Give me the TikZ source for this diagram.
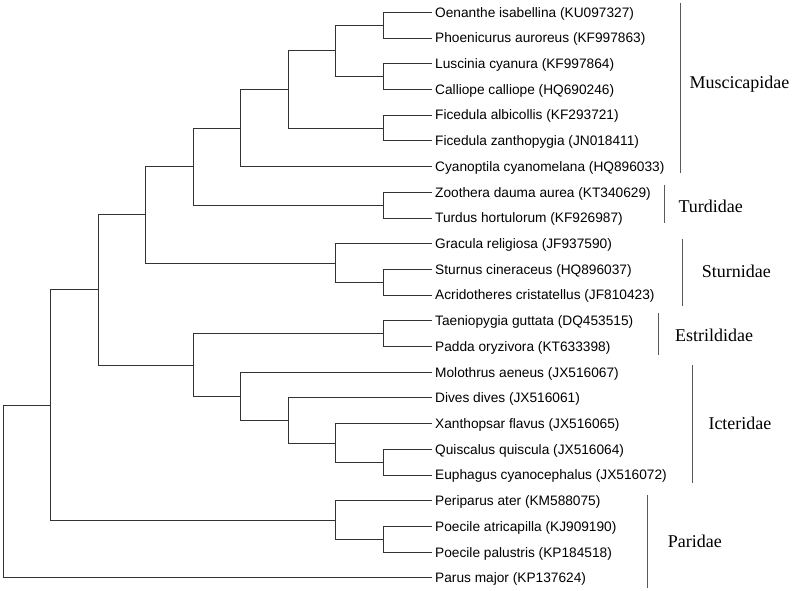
\documentclass[tikz,border=0pt]{standalone}
\usepackage{fontspec}
\setmainfont{Liberation Serif}
\newfontfamily\leaffont{Liberation Sans}
\begin{document}
\begin{tikzpicture}[x=1pt,y=-1pt,
  branch/.style={draw=black!80,line width=0.9pt},
  cladebar/.style={draw=black!65,line width=0.7pt},
  leaf/.style={anchor=base west,inner sep=0pt,font=\leaffont\fontsize{13.7}{15}\selectfont},
  family/.style={anchor=base west,inner sep=0pt,font=\fontsize{18}{20}\selectfont}]
\useasboundingbox (0,0) rectangle (793,591);
% tips
\foreach \i/\y in {0/12.3,1/38.0,2/63.7,3/89.4,4/115.1,5/140.9,6/166.6,7/192.3,8/218.0,9/243.7,10/269.4,11/295.1,12/320.8,13/346.5,14/372.2,15/397.9,16/423.7,17/449.4,18/475.1,19/500.8,20/526.5,21/552.2,22/577.9}
  \coordinate (t\i) at (432,\y);
% leaf labels
\node[leaf] (n0) at (435,17.1) {Oenanthe isabellina (KU097327)};
\node[leaf] (n1) at (435,42.8) {Phoenicurus auroreus (KF997863)};
\node[leaf] (n2) at (435,68.5) {Luscinia cyanura (KF997864)};
\node[leaf] (n3) at (435,94.2) {Calliope calliope (HQ690246)};
\node[leaf] (n4) at (435,119.9) {Ficedula albicollis (KF293721)};
\node[leaf] (n5) at (435,145.7) {Ficedula zanthopygia (JN018411)};
\node[leaf] (n6) at (435,171.4) {Cyanoptila cyanomelana (HQ896033)};
\node[leaf] (n7) at (435,197.1) {Zoothera dauma aurea (KT340629)};
\node[leaf] (n8) at (435,222.8) {Turdus hortulorum (KF926987)};
\node[leaf] (n9) at (435,248.5) {Gracula religiosa (JF937590)};
\node[leaf] (n10) at (435,274.2) {Sturnus cineraceus (HQ896037)};
\node[leaf] (n11) at (435,299.9) {Acridotheres cristatellus (JF810423)};
\node[leaf] (n12) at (435,325.6) {Taeniopygia guttata (DQ453515)};
\node[leaf] (n13) at (435,351.3) {Padda oryzivora (KT633398)};
\node[leaf] (n14) at (435,377.0) {Molothrus aeneus (JX516067)};
\node[leaf] (n15) at (435,402.7) {Dives dives (JX516061)};
\node[leaf] (n16) at (435,428.5) {Xanthopsar flavus (JX516065)};
\node[leaf] (n17) at (435,454.2) {Quiscalus quiscula (JX516064)};
\node[leaf] (n18) at (435,479.9) {Euphagus cyanocephalus (JX516072)};
\node[leaf] (n19) at (435,505.6) {Periparus ater (KM588075)};
\node[leaf] (n20) at (435,531.3) {Poecile atricapilla (KJ909190)};
\node[leaf] (n21) at (435,557.0) {Poecile palustris (KP184518)};
\node[leaf] (n22) at (435,582.7) {Parus major (KP137624)};
% internal nodes
\coordinate (A) at (383,25.15);
\coordinate (B) at (383,76.55);
\coordinate (C) at (335.5,50.85);
\coordinate (D) at (383,128.0);
\coordinate (E) at (288,89.4);
\coordinate (F) at (240.5,128.0);
\coordinate (G) at (383,205.15);
\coordinate (H) at (193,166.6);
\coordinate (J) at (383,282.25);
\coordinate (I) at (335.5,262.97);
\coordinate (K) at (145.5,214.8);
\coordinate (M) at (383,333.65);
\coordinate (R) at (383,462.25);
\coordinate (Q) at (335.5,442.97);
\coordinate (P) at (288,420.4);
\coordinate (O) at (240.5,396.3);
\coordinate (N) at (193,364.98);
\coordinate (L) at (98,289.9);
\coordinate (U) at (383,539.35);
\coordinate (T) at (335.5,520.1);
\coordinate (S) at (50.5,405.0);
\coordinate (root) at (3,491.4);
% branches
\draw[branch] (A) |- (t0) (A) |- (t1);
\draw[branch] (B) |- (t2) (B) |- (t3);
\draw[branch] (C) |- (A) (C) |- (B);
\draw[branch] (D) |- (t4) (D) |- (t5);
\draw[branch] (E) |- (C) (E) |- (D);
\draw[branch] (F) |- (E) (F) |- (t6);
\draw[branch] (G) |- (t7) (G) |- (t8);
\draw[branch] (H) |- (F) (H) |- (G);
\draw[branch] (J) |- (t10) (J) |- (t11);
\draw[branch] (I) |- (t9) (I) |- (J);
\draw[branch] (K) |- (H) (K) |- (I);
\draw[branch] (M) |- (t12) (M) |- (t13);
\draw[branch] (R) |- (t17) (R) |- (t18);
\draw[branch] (Q) |- (t16) (Q) |- (R);
\draw[branch] (P) |- (t15) (P) |- (Q);
\draw[branch] (O) |- (t14) (O) |- (P);
\draw[branch] (N) |- (M) (N) |- (O);
\draw[branch] (L) |- (K) (L) |- (N);
\draw[branch] (U) |- (t20) (U) |- (t21);
\draw[branch] (T) |- (t19) (T) |- (U);
\draw[branch] (S) |- (L) (S) |- (T);
\draw[branch] (root) |- (S) (root) |- (t22);
% clade bars
\coordinate (mus1) at (680,3); \coordinate (mus2) at (680,172.7);
\coordinate (tur1) at (664,185); \coordinate (tur2) at (664,223.3);
\coordinate (stu1) at (682.3,239); \coordinate (stu2) at (682.3,305.7);
\coordinate (est1) at (658.3,313.3); \coordinate (est2) at (658.3,355);
\coordinate (ict1) at (692.3,365); \coordinate (ict2) at (692.3,483.3);
\coordinate (par1) at (647.7,495); \coordinate (par2) at (647.7,588.3);
\draw[cladebar] (mus1) -- (mus2);
\draw[cladebar] (tur1) -- (tur2);
\draw[cladebar] (stu1) -- (stu2);
\draw[cladebar] (est1) -- (est2);
\draw[cladebar] (ict1) -- (ict2);
\draw[cladebar] (par1) -- (par2);
% family labels
\node[family] (fmus) at (689.3,88.5) {Muscicapidae};
\node[family] (ftur) at (678.3,212.7) {Turdidae};
\node[family] (fstu) at (701.7,277.3) {Sturnidae};
\node[family] (fest) at (675,341) {Estrildidae};
\node[family] (fict) at (708.3,429.3) {Icteridae};
\node[family] (fpar) at (667.7,547.3) {Paridae};
\end{tikzpicture}
\end{document}
